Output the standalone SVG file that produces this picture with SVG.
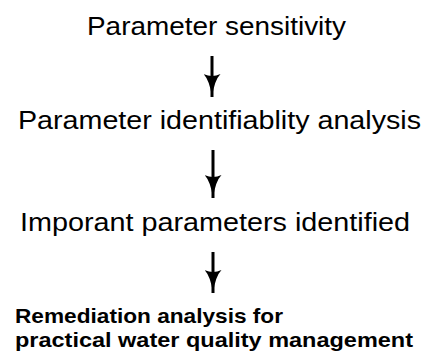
<svg xmlns="http://www.w3.org/2000/svg" width="424" height="358" viewBox="0 0 424 358">
<style>
.t{font-family:"Liberation Sans","DejaVu Sans",sans-serif;font-size:26px;fill:#000}
.b{font-family:"Liberation Sans","DejaVu Sans",sans-serif;font-size:21px;font-weight:bold;fill:#000}
.ln{stroke:#000;stroke-width:3;fill:none}
</style>
<defs>
<marker id="ah" markerWidth="23" markerHeight="17" refX="23" refY="8.5" orient="auto" markerUnits="userSpaceOnUse" viewBox="0 0 23 17">
<path d="M0,0 Q6,6 23,8.5 Q6,11 0,17 Q4,8.5 0,0 Z" fill="#000"/>
</marker>
</defs>
<rect width="424" height="358" fill="#fff"/>
<g id="n1"><text class="t" x="87" y="35" textLength="259" lengthAdjust="spacingAndGlyphs">Parameter sensitivity</text></g>
<g id="n2"><text class="t" x="18" y="129" textLength="403" lengthAdjust="spacingAndGlyphs">Parameter identifiablity analysis</text></g>
<g id="n3"><text class="t" x="20" y="231" textLength="390" lengthAdjust="spacingAndGlyphs">Imporant parameters identified</text></g>
<g id="n4"><text class="b" x="15" y="323" textLength="268" lengthAdjust="spacingAndGlyphs">Remediation analysis for</text><text class="b" x="15" y="347" textLength="398" lengthAdjust="spacingAndGlyphs">practical water quality management</text></g>
<g id="connectors">
<line class="ln" x1="212" y1="56" x2="212" y2="97" marker-end="url(#ah)"/>
<line class="ln" x1="213" y1="150" x2="213" y2="198" marker-end="url(#ah)"/>
<line class="ln" x1="213" y1="252" x2="213" y2="293" marker-end="url(#ah)"/>
</g>
</svg>
